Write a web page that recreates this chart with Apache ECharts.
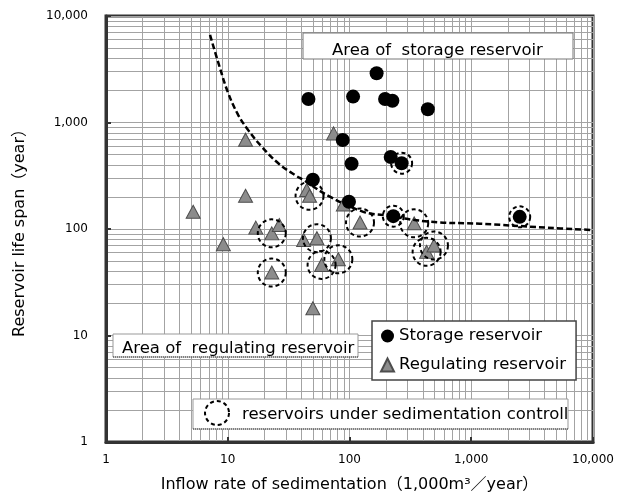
<!DOCTYPE html>
<html>
<head>
<meta charset="utf-8">
<script src="https://cdn.jsdelivr.net/npm/echarts@6/dist/echarts.min.js"></script>
<style>html,body{margin:0;padding:0;background:#fff}#main{width:622px;height:494px}</style>
</head>
<body>
<div id="main"></div>
<script>
// storage reservoirs (black circles)
var storageX = [46, 50, 167, 107, 196, 225, 440, 88, 104, 218, 268, 99, 229, 2500];
var storageY = [1660, 290, 2900, 1750, 1660, 1600, 1330, 685, 410, 475, 415, 180, 132, 130];
var storageCtrl = [0, 0, 0, 0, 0, 0, 0, 0, 0, 0, 1, 0, 1, 1];
// regulating reservoirs (grey triangles)
var regX = [5.2, 9.2, 14, 14, 17, 23, 26.5, 23, 44.5, 47, 42, 54, 59, 50, 81, 74, 89, 122, 340, 430, 494];
var regY = [145, 72, 690, 205, 103, 91, 109, 39, 232, 205, 79, 82, 46, 18, 52, 790, 170, 115, 113, 61, 70];
var regCtrl = [0, 0, 0, 0, 0, 1, 0, 1, 0, 1, 0, 1, 1, 0, 1, 0, 0, 1, 1, 1, 1];
// boundary curve
var curveX = [7.15, 8.4, 10.1, 12.2, 14.7, 19, 26, 35.7, 41.8, 69, 130, 190, 458, 1180, 4170, 9500];
var curveY = [6640, 3590, 1880, 1175, 851, 593, 414, 321, 288, 201, 145, 135, 117, 112, 103, 98];

var FONT = 'DejaVu Sans, Noto Sans CJK JP, sans-serif';

function pairs(xs, ys) {
    var out = [];
    for (var i = 0; i < xs.length; i++) out.push([xs[i], ys[i]]);
    return out;
}
function ctrlPairs(xs, ys, flags) {
    var out = [];
    for (var i = 0; i < xs.length; i++) if (flags[i]) out.push([xs[i], ys[i]]);
    return out;
}
function fmt(v) {
    return Math.round(v).toLocaleString('en-US');
}

var gridLine = { color: '#a3a3a3', width: 1 };

var axisCommon = {
    type: 'log',
    logBase: 10,
    min: 1,
    max: 10000,
    axisLine: { show: true, lineStyle: { color: '#333', width: 3 } },
    axisTick: { show: true, inside: true, length: 5, lineStyle: { color: '#333', width: 2 } },
    splitLine: { show: true, lineStyle: gridLine },
    minorTick: { show: false, splitNumber: 9 },
    minorSplitLine: { show: true, lineStyle: gridLine },
    axisLabel: { color: '#000', fontSize: 12, fontFamily: FONT, formatter: fmt },
    nameLocation: 'middle',
    nameTextStyle: { color: '#000', fontSize: 16, fontFamily: FONT }
};

var myChart = echarts.init(document.getElementById('main'));
myChart.setOption({
    animation: false,
    backgroundColor: '#fff',
    grid: {
        left: 106, top: 16, width: 487, height: 426,
        containLabel: false,
        outerBoundsMode: 'none',
        show: true, borderColor: '#333', borderWidth: 3, backgroundColor: 'transparent'
    },
    xAxis: echarts.util.merge({
        name: 'Inflow rate of sedimentation（1,000m³／year）',
        nameGap: 35,
        axisLabel: { margin: 12 }
    }, axisCommon),
    yAxis: echarts.util.merge({
        name: 'Reservoir life span（year）',
        nameGap: 78,
        axisLabel: { margin: 18 }
    }, axisCommon),
    legend: {
        orient: 'vertical',
        left: 372,
        top: 321,
        data: ['Storage reservoir', 'Regulating reservoir'],
        backgroundColor: '#fff',
        borderColor: '#444',
        borderWidth: 1.5,
        padding: [5, 10, 5, 8],
        itemGap: 9,
        itemWidth: 13,
        itemHeight: 13,
        textStyle: { color: '#000', fontSize: 16.5, fontFamily: FONT, lineHeight: 20 },
        z: 20
    },
    graphic: [
        { type: 'rect', z: 10, shape: { x: 303, y: 33, width: 270, height: 26 },
          style: { fill: '#fff', stroke: '#777', lineWidth: 1 } },
        { type: 'text', z: 11, x: 332, y: 51,
          style: { text: 'Area of  storage reservoir', fill: '#000', font: '16.5px ' + FONT, verticalAlign: 'middle' } },
        { type: 'rect', z: 10, shape: { x: 113, y: 334, width: 245, height: 23 },
          style: { fill: '#fff', stroke: '#999', lineWidth: 1 } },
        { type: 'line', z: 11, shape: { x1: 113, y1: 357, x2: 358, y2: 357 },
          style: { stroke: '#333', lineWidth: 1, lineDash: [1, 1] } },
        { type: 'text', z: 11, x: 122, y: 349,
          style: { text: 'Area of  regulating reservoir', fill: '#000', font: '16.5px ' + FONT, verticalAlign: 'middle' } },
        { type: 'rect', z: 10, shape: { x: 193, y: 399, width: 375, height: 30 },
          style: { fill: '#fff', stroke: '#999', lineWidth: 1 } },
        { type: 'line', z: 11, shape: { x1: 193, y1: 429, x2: 568, y2: 429 },
          style: { stroke: '#333', lineWidth: 1, lineDash: [1, 1] } },
        { type: 'circle', z: 11, shape: { cx: 217, cy: 413, r: 12 },
          style: { fill: 'none', stroke: '#000', lineWidth: 2, lineDash: [4, 3] } },
        { type: 'text', z: 11, x: 242, y: 415,
          style: { text: 'reservoirs under sedimentation controll', fill: '#000', font: '16.5px ' + FONT, verticalAlign: 'middle' } }
    ],
    series: [
        {
            name: 'Regulating reservoir',
            type: 'scatter',
            symbol: 'triangle',
            symbolSize: [14, 13],
            itemStyle: { color: '#8c8c8c', borderColor: '#4d4d4d', borderWidth: 1, opacity: 1 },
            data: pairs(regX, regY),
            z: 2
        },
        {
            name: 'Storage reservoir',
            type: 'scatter',
            symbol: 'circle',
            symbolSize: 14,
            itemStyle: { color: '#000', opacity: 1 },
            data: pairs(storageX, storageY),
            z: 3
        },
        {
            name: 'ctrlReg',
            type: 'scatter',
            symbol: 'circle',
            symbolSize: 28,
            silent: true,
            itemStyle: { color: 'transparent', borderColor: '#000', borderWidth: 2, borderType: [4, 3], opacity: 1 },
            data: ctrlPairs(regX, regY, regCtrl),
            z: 4
        },
        {
            name: 'ctrlStor',
            type: 'scatter',
            symbol: 'circle',
            symbolSize: 21,
            silent: true,
            itemStyle: { color: 'transparent', borderColor: '#000', borderWidth: 2, borderType: [4, 3], opacity: 1 },
            data: ctrlPairs(storageX, storageY, storageCtrl),
            z: 4
        },
        {
            name: 'boundary',
            type: 'line',
            smooth: 0.4,
            showSymbol: false,
            silent: true,
            lineStyle: { color: '#000', width: 2.5, type: [6, 3] },
            data: pairs(curveX, curveY),
            z: 5
        }
    ]
});
</script>
</body>
</html>
